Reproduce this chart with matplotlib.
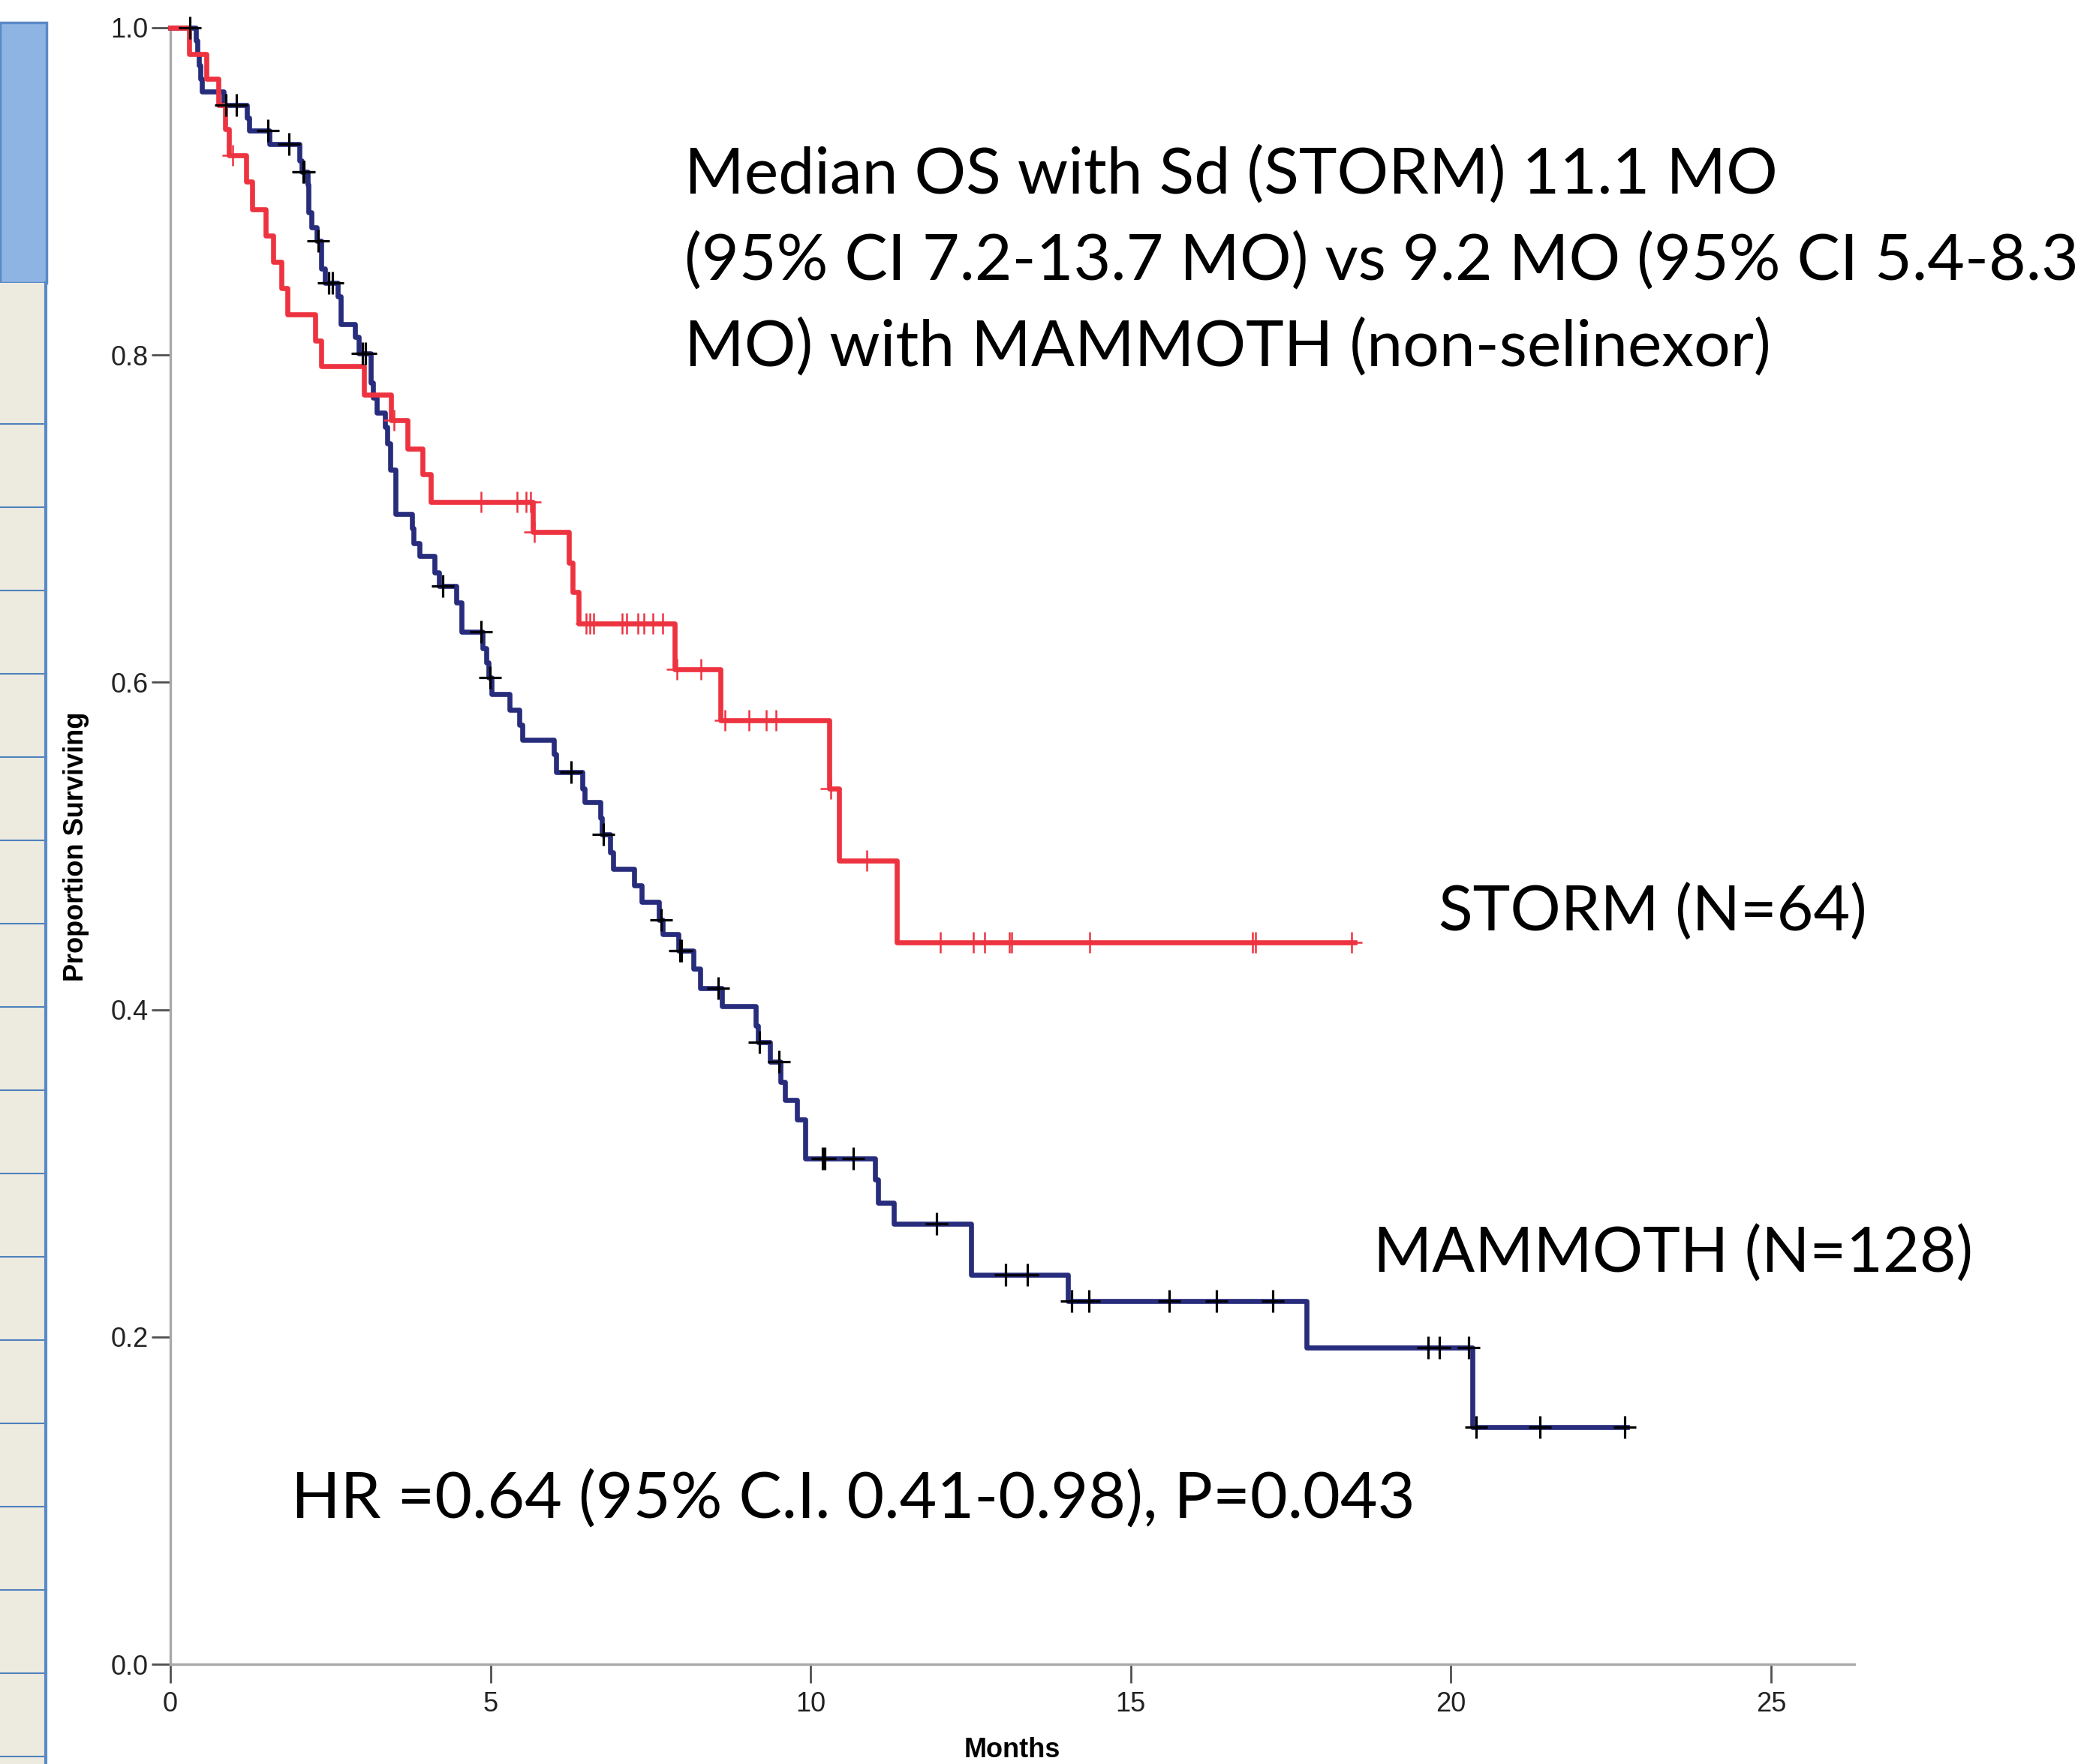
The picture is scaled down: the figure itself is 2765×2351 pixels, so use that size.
import numpy as np
import matplotlib
matplotlib.use("Agg")
from matplotlib import pyplot as plt
from matplotlib.patches import Rectangle
from matplotlib.lines import Line2D

# STORM (Sd) arm: time of each drop (months) and survival after it
storm_t = [0.29, 0.56, 0.75, 0.86, 0.92, 1.18, 1.28, 1.49, 1.61, 1.73, 1.83,
           2.26, 2.35, 3.02, 3.45, 3.70, 3.94, 4.07, 5.66, 6.22, 6.28, 6.38,
           7.88, 8.59, 10.29, 10.44, 11.34]
storm_s = [0.984, 0.969, 0.953, 0.938, 0.922, 0.906, 0.889, 0.873, 0.857, 0.841,
           0.825, 0.809, 0.793, 0.776, 0.760, 0.743, 0.727, 0.710, 0.692, 0.673,
           0.655, 0.636, 0.608, 0.577, 0.535, 0.491, 0.441]
storm_cens = [0.97, 3.49, 4.85, 5.42, 5.56, 5.62, 5.69, 6.49, 6.55, 6.61, 7.06,
              7.12, 7.30, 7.39, 7.54, 7.69, 7.91, 8.29, 8.66, 9.04, 9.31, 9.46,
              10.31, 10.88, 12.03, 12.54, 12.72, 13.10, 13.14, 14.36, 16.90,
              16.95, 18.45]
storm_end = 18.5

# MAMMOTH arm
mam_t = [0.40, 0.42, 0.44, 0.47, 0.49, 0.83, 1.20, 1.23, 1.55, 2.02, 2.05,
         2.14, 2.16, 2.20, 2.28, 2.36, 2.41, 2.61, 2.66, 2.88, 2.94, 3.13, 3.17,
         3.22, 3.35, 3.39, 3.43, 3.52, 3.77, 3.80, 3.89, 4.13, 4.20, 4.46, 4.55,
         4.88, 4.94, 4.97, 5.02, 5.30, 5.45, 5.50, 5.99, 6.02, 6.44, 6.47, 6.71,
         6.74, 6.87, 6.91, 7.24, 7.36, 7.63, 7.69, 7.94, 8.17, 8.27, 8.62, 9.14,
         9.18, 9.37, 9.53, 9.60, 9.79, 9.91, 9.92, 11.00, 11.05, 11.30, 12.51,
         14.02, 17.74, 20.33]
mam_s = [0.992, 0.984, 0.977, 0.969, 0.961, 0.953, 0.945, 0.937, 0.929, 0.919,
         0.912, 0.904, 0.887, 0.878, 0.870, 0.853, 0.844, 0.836, 0.819, 0.811,
         0.801, 0.783, 0.774, 0.765, 0.756, 0.746, 0.730, 0.703, 0.694, 0.685,
         0.677, 0.667, 0.659, 0.649, 0.631, 0.621, 0.612, 0.603, 0.593, 0.583,
         0.574, 0.565, 0.556, 0.545, 0.535, 0.527, 0.517, 0.507, 0.496, 0.486,
         0.476, 0.466, 0.455, 0.446, 0.436, 0.425, 0.413, 0.402, 0.390, 0.380,
         0.368, 0.356, 0.345, 0.333, 0.321, 0.309, 0.296, 0.282, 0.269, 0.238,
         0.222, 0.1935, 0.145]
mam_cens = [0.30, 0.87, 1.03, 1.52, 1.85, 2.07, 2.09, 2.31, 2.47, 2.53, 3.00,
            3.05, 4.25, 4.85, 4.99, 6.26, 6.76, 7.66, 7.96, 7.98, 8.55, 9.20,
            9.50, 10.19, 10.22, 10.66, 11.97, 13.04, 13.39, 14.08, 14.35, 15.60,
            16.34, 17.22, 19.64, 19.82, 20.28, 20.39, 21.39, 22.71]
mam_end = 22.75

x_ticks = [0, 5, 10, 15, 20, 25]
y_ticks = [0.0, 0.2, 0.4, 0.6, 0.8, 1.0]

RED = "#EE3340"
NAVY = "#272C7C"
W, H = 2765, 2351


def step_xy(times, surv, end):
    return [0] + list(times) + [end], [1.0] + list(surv) + [surv[-1]]


def surv_at(times, surv, cens):
    idx = np.searchsorted(times, cens, side="right")
    return np.concatenate([[1.0], surv])[idx]


fig = plt.figure(figsize=(W / 100, H / 100), dpi=100)

# spreadsheet strip on the left edge
def px_rect(x0, y0, x1, y1, **kw):
    fig.patches.append(Rectangle((x0 / W, 1 - y1 / H), (x1 - x0) / W, (y1 - y0) / H,
                                 transform=fig.transFigure, **kw))

px_rect(0, 30, 62, 377, facecolor="#8EB4E3", edgecolor="#5A8AC6", linewidth=2.5)
px_rect(0, 377, 62, H + 5, facecolor="#EDEBE0", edgecolor="none")
for yl in range(565, H, 111):
    fig.lines.append(Line2D([0, 62 / W], [1 - yl / H] * 2, transform=fig.transFigure,
                            color="#4F81BD", linewidth=1.5))
fig.lines.append(Line2D([61 / W] * 2, [0, 1 - 377 / H], transform=fig.transFigure,
                        color="#5A8AC6", linewidth=3))

ax = fig.add_axes([227 / W, 1 - 2218 / H, (2471 - 227) / W, (2218 - 37) / H])
ax.set_xlim(0, 26.3)
ax.set_ylim(0, 1.0)

tx, ty = step_xy(mam_t, mam_s, mam_end)
ax.step(tx, ty, where="post", color=NAVY, linewidth=4.8, clip_on=False, zorder=3)
tx, ty = step_xy(storm_t, storm_s, storm_end)
ax.step(tx, ty, where="post", color=RED, linewidth=4.8, clip_on=False, zorder=4)

ax.plot(storm_cens, surv_at(storm_t, storm_s, storm_cens), linestyle="none",
        marker="+", markersize=20, markeredgewidth=1.8, color=RED, zorder=5, clip_on=False)
ax.plot(mam_cens, surv_at(mam_t, mam_s, mam_cens), linestyle="none",
        marker="+", markersize=22, markeredgewidth=2.3, color="black", zorder=6, clip_on=False)

for side in ["top", "right"]:
    ax.spines[side].set_visible(False)
for side in ["left", "bottom"]:
    ax.spines[side].set_color("#A8A8A8")
    ax.spines[side].set_linewidth(2.4)

ax.set_xticks(x_ticks)
ax.set_yticks(y_ticks)
ax.set_yticklabels([f"{v:.1f}" for v in y_ticks])
ax.tick_params(axis="both", direction="out", length=18, width=2, color="#505050",
               labelsize=26, labelcolor="#222222")
ax.tick_params(axis="x", pad=8)
ax.tick_params(axis="y", pad=3)
for lab in ax.get_xticklabels() + ax.get_yticklabels():
    lab.set_family("Liberation Sans")

fig.text(102 / W, 1 - 1128 / H, "Proportion Surviving", rotation=90, ha="center",
         va="center", fontsize=26, fontweight="bold", family="Liberation Sans")
fig.text(1349 / W, 1 - 2333 / H, "Months", ha="center", va="center",
         fontsize=26, fontweight="bold", family="Liberation Sans")

big = dict(fontsize=61.8, family="Lato", color="black", va="baseline", ha="left")
lbl = dict(big, fontsize=60.6)
fig.text(912 / W, 1 - 257 / H, "Median OS with Sd (STORM) 11.1 MO", **big)
fig.text(912 / W, 1 - 372 / H, "(95% CI 7.2-13.7 MO) vs 9.2 MO (95% CI 5.4-8.3", **big)
fig.text(912 / W, 1 - 487 / H, "MO) with MAMMOTH (non-selinexor)", **big)
fig.text(1917 / W, 1 - 1241 / H, "STORM (N=64)", **lbl)
fig.text(1830 / W, 1 - 1696 / H, "MAMMOTH (N=128)", **lbl)
fig.text(388 / W, 1 - 2022 / H, "HR =0.64 (95% C.I. 0.41-0.98), P=0.043", **big)

plt.savefig("out.png", dpi=100)
plt.close()
